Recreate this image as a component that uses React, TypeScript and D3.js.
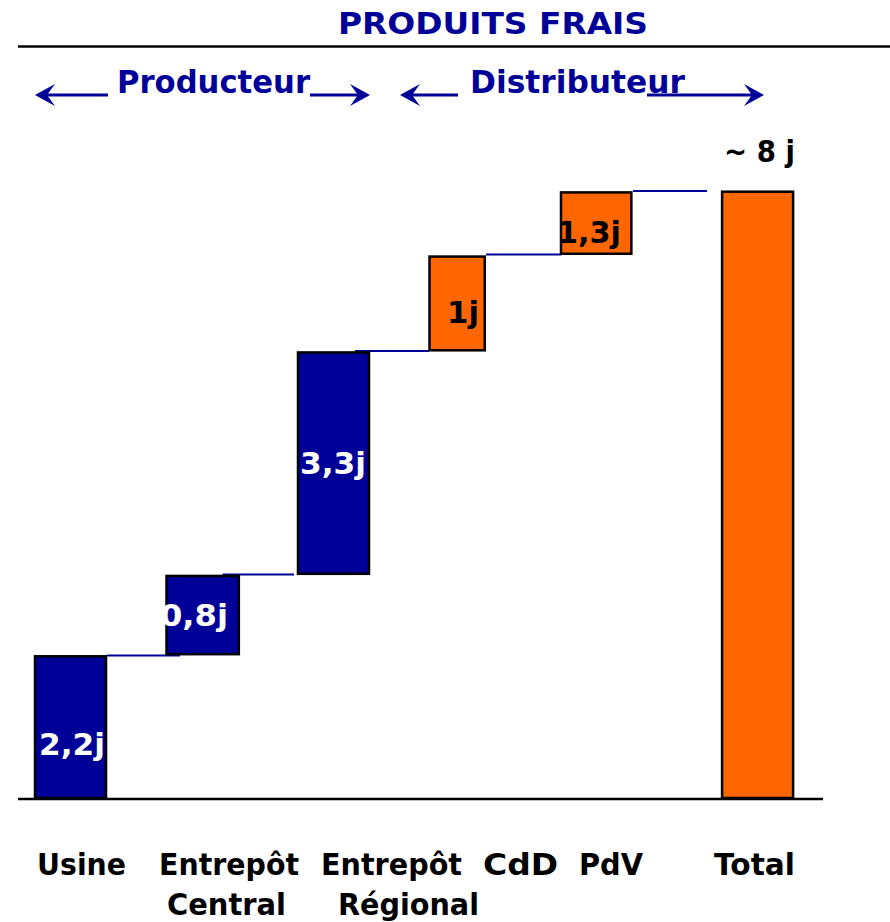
import React from "react";
import * as d3 from "d3";

// ---- data ----
const categories = ["Usine", "Entrepôt Central", "Entrepôt Régional", "CdD", "PdV", "Total"];
const labelLines = [["Usine"], ["Entrepôt", "Central"], ["Entrepôt", "Régional"], ["CdD"], ["PdV"], ["Total"]];
const valueLabels = ["2,2j", "0,8j", "3,3j", "1j", "1,3j", "~ 8 j"];
// bar extents as drawn (days)
const barStart = [0, 2.04, 3.18, 6.35, 7.72, 0];
const barEnd = [2.01, 3.15, 6.32, 7.68, 8.59, 8.6];
const barGroup = ["prod", "prod", "prod", "dist", "dist", "total"];
const connectorLevels = [2.02, 3.17, 6.34, 7.71, 8.61];
const title = "PRODUITS FRAIS";
const phases = ["Producteur", "Distributeur"];

const NAVY = "#000099";
const ORANGE = "#FF6600";
const FONT = "'DejaVu Sans', Verdana, sans-serif";

export default function App() {
  const W = 890;
  const H = 922;
  const y = d3.scaleLinear().domain([0, 8.6]).range([798, 191.7]);
  const x = d3.scaleLinear().domain([0, 1]).range([35, 166.5]);

  // layout (slot units)
  const slot = [0, 1, 2, 3, 4, 5.225];
  const widthU = [0.54, 0.55, 0.54, 0.42, 0.535, 0.54];
  const connX: [number, number][] = [
    [0.548, 1.103],
    [1.426, 1.97],
    [2.433, 2.996],
    [3.43, 4.004],
    [4.548, 5.11],
  ];
  const labelPos = [
    { x: 39, y: 755, fill: "#fff" },
    { x: 160, y: 626, fill: "#fff" },
    { x: 300, y: 474, fill: "#fff" },
    { x: 447, y: 323, fill: "#000" },
    { x: 557, y: 243, fill: "#000" },
    { x: 724, y: 162, fill: "#000" },
  ];
  const labelWidths = [66, 68, 66, 32, 64, 71];
  const catX = [37, 159, 321, 483, 579, 714];
  const catX2 = [37, 167, 338, 483, 579, 714];
  const catW1 = [89, 140, 141, 75, 64, 81];
  const catW2 = [0, 119, 141, 0, 0, 0];
  const fillFor = (g: string) => (g === "prod" ? NAVY : ORANGE);

  const arrow = (x1: number, x2: number, yy: number, key: string) => {
    // arrow head at x2
    const dir = x2 > x1 ? 1 : -1;
    const hl = 20;
    const hw = 11;
    return (
      <g key={key}>
        <line x1={x1} y1={yy} x2={x2 - dir * 8} y2={yy} stroke={NAVY} strokeWidth={3} />
        <path
          d={`M${x2},${yy} L${x2 - dir * hl},${yy - hw} L${x2 - dir * 12},${yy} L${x2 - dir * hl},${yy + hw} Z`}
          fill={NAVY}
        />
      </g>
    );
  };

  return (
    <svg width={W} height={H} style={{ position: "absolute", left: 0, top: 0, background: "#fff" }}>
      <rect x={0} y={0} width={W} height={H} fill="#fff" />
      {/* title */}
      <text x={338} y={34} fontFamily={FONT} fontWeight="bold" fontSize={31} fill={NAVY}
        textLength={310} lengthAdjust="spacingAndGlyphs">{title}</text>
      <line x1={18} x2={890} y1={46.5} y2={46.5} stroke="#000" strokeWidth={2.5} />

      {/* phases */}
      {arrow(108, 35, 95, "a1")}
      {arrow(310, 370, 95, "a2")}
      {arrow(458, 400, 95, "a3")}
      {arrow(647, 764, 95, "a4")}
      <text x={117} y={93} fontFamily={FONT} fontWeight="bold" fontSize={32} fill={NAVY}
        textLength={193} lengthAdjust="spacingAndGlyphs">{phases[0]}</text>
      <text x={470} y={93} fontFamily={FONT} fontWeight="bold" fontSize={32} fill={NAVY}
        textLength={215} lengthAdjust="spacingAndGlyphs">{phases[1]}</text>

      {/* connectors */}
      {connectorLevels.map((lv, i) => (
        <line key={"c" + i} x1={x(connX[i][0])} x2={x(connX[i][1])} y1={y(lv)} y2={y(lv)}
          stroke={NAVY} strokeWidth={2} />
      ))}

      {/* bars */}
      {categories.map((c, i) => (
        <rect key={c} x={x(slot[i])} width={x(widthU[i]) - x(0)}
          y={y(barEnd[i])} height={y(barStart[i]) - y(barEnd[i])}
          fill={fillFor(barGroup[i])} stroke="#000" strokeWidth={2.5} />
      ))}

      {/* value labels */}
      {valueLabels.map((v, i) => (
        <text key={"v" + i} x={labelPos[i].x} y={labelPos[i].y} fontFamily={FONT} fontWeight="bold"
          fontSize={30.5} fill={labelPos[i].fill} textLength={labelWidths[i]} lengthAdjust="spacingAndGlyphs">{v}</text>
      ))}

      {/* baseline */}
      <line x1={18} x2={823} y1={799} y2={799} stroke="#000" strokeWidth={2.5} />

      {/* category labels */}
      {labelLines.map((lines, i) => (
        <g key={"l" + i}>
          <text x={catX[i]} y={875} fontFamily={FONT} fontWeight="bold" fontSize={30} fill="#000"
            textLength={catW1[i]} lengthAdjust="spacingAndGlyphs">{lines[0]}</text>
          {lines[1] && (
            <text x={catX2[i]} y={915} fontFamily={FONT} fontWeight="bold" fontSize={30} fill="#000"
              textLength={catW2[i]} lengthAdjust="spacingAndGlyphs">{lines[1]}</text>
          )}
        </g>
      ))}
    </svg>
  );
}
